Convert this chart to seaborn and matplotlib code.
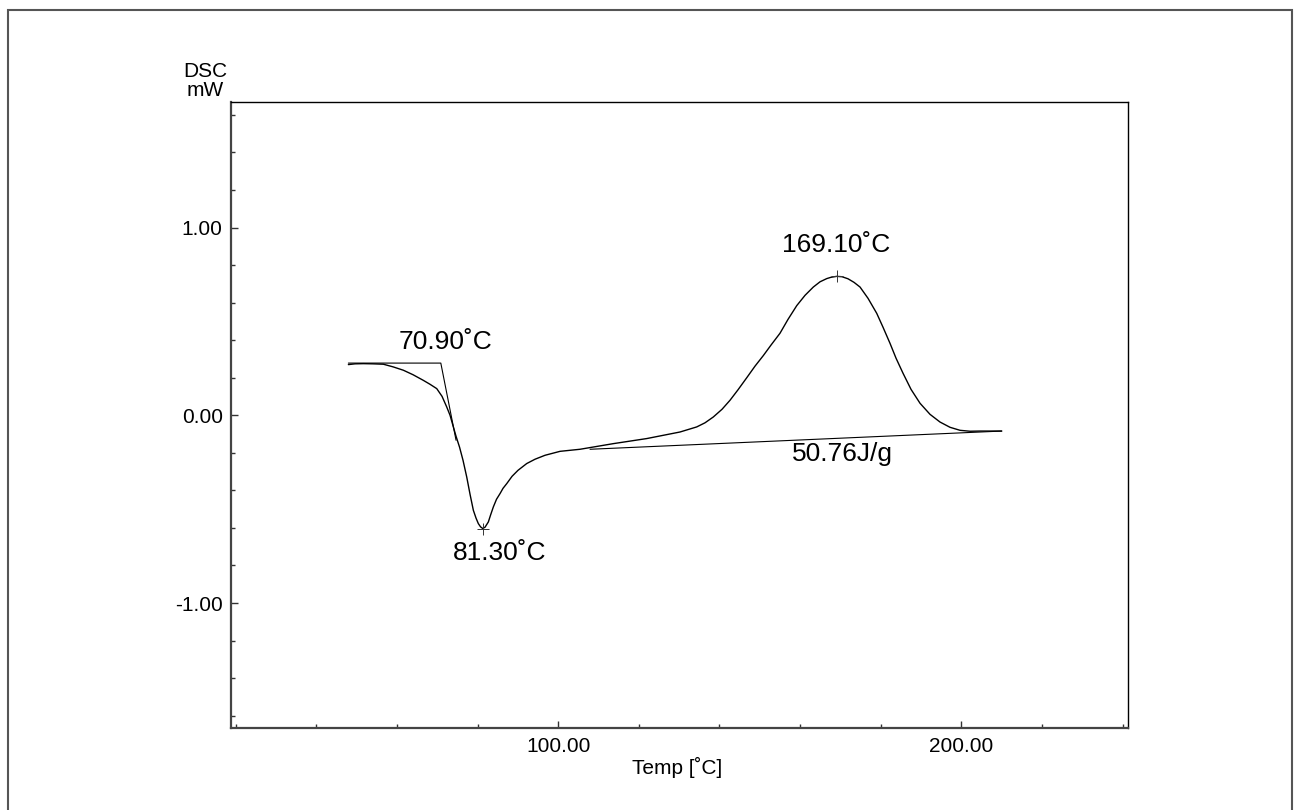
import seaborn as sns
import pandas as pd
import matplotlib.pyplot as plt
import numpy as np
from matplotlib.patches import Rectangle
from matplotlib.ticker import MultipleLocator, FormatStrFormatter

# DSC curve (Temp in C, heat flow in mW)
temp = [47.97, 49.63, 51.69, 54.09, 56.65, 59.05, 61.61, 64.01, 66.57, 68.23,
        69.89, 71.20, 72.37, 73.19, 74.01, 74.68, 75.55, 76.41, 77.33, 78.15,
        78.97, 79.64, 80.21, 80.75, 81.30, 81.87, 82.69, 83.23, 83.93, 84.72,
        85.59, 86.33, 87.25, 88.57, 90.05, 92.21, 94.27, 96.75, 100.47, 105.43,
        113.69, 121.97, 130.23, 134.37, 136.43, 138.49, 140.65, 142.63, 144.62, 146.78,
        148.84, 150.89, 152.80, 155.03, 157.02, 159.18, 161.24, 163.29, 164.96, 166.62,
        167.68, 169.10, 170.41, 171.90, 173.39, 174.88, 176.86, 179.02, 180.58, 182.32,
        183.81, 185.54, 187.53, 189.76, 192.24, 194.72, 197.20, 199.68, 202.16, 204.64,
        207.12, 210.02]
dsc = [0.270, 0.274, 0.275, 0.274, 0.272, 0.258, 0.240, 0.216, 0.186, 0.165,
       0.142, 0.101, 0.044, 0.000, -0.062, -0.112, -0.170, -0.240, -0.329, -0.421,
       -0.506, -0.548, -0.577, -0.594, -0.603, -0.596, -0.568, -0.532, -0.488, -0.447,
       -0.417, -0.389, -0.364, -0.325, -0.293, -0.257, -0.234, -0.213, -0.192, -0.181,
       -0.151, -0.124, -0.089, -0.062, -0.040, -0.009, 0.032, 0.080, 0.136, 0.200,
       0.262, 0.318, 0.374, 0.437, 0.511, 0.584, 0.639, 0.683, 0.711, 0.728,
       0.735, 0.740, 0.738, 0.727, 0.708, 0.683, 0.623, 0.543, 0.469, 0.383,
       0.304, 0.224, 0.138, 0.064, 0.005, -0.036, -0.064, -0.080, -0.085, -0.084,
       -0.084, -0.084]

# onset construction and peak baseline
onset_t = [47.97, 70.90, 74.68]
onset_v = [0.278, 0.278, -0.133]
base_t = [107.91, 210.02]
base_v = [-0.181, -0.084]

peak_t = [81.30, 169.10]
peak_v = [-0.603, 0.740]

labels = ['70.90˚C', '81.30˚C', '169.10˚C', '50.76J/g']
label_t = [71.95, 85.52, 169.05, 170.53]
label_v = [0.355, -0.772, 0.870, -0.243]

sns.set_theme(style='white')
plt.rcParams['font.family'] = ['Liberation Sans', 'DejaVu Sans']
plt.rcParams['axes.unicode_minus'] = False

fig = plt.figure(figsize=(12.98, 8.10), dpi=100)
ax = fig.add_axes([0.178, 0.1009, 0.6908, 0.7728])

df = pd.DataFrame({'Temp': temp, 'DSC': dsc})
sns.lineplot(data=df, x='Temp', y='DSC', sort=False, color='black', linewidth=1.0, ax=ax)
ax.plot(onset_t, onset_v, color='black', linewidth=0.8)
ax.plot(base_t, base_v, color='black', linewidth=0.8)
ax.plot(peak_t, peak_v, linestyle='none', marker='+', markersize=8,
        markeredgewidth=0.7, color='#333333')

for s, t, v in zip(labels, label_t, label_v):
    ax.text(t, v, s, ha='center', va='baseline', fontsize=19, color='black')

ax.set_xlim(18.87, 241.27)
ax.set_ylim(-1.667, 1.667)
ax.xaxis.set_major_locator(MultipleLocator(100))
ax.xaxis.set_minor_locator(MultipleLocator(20))
ax.yaxis.set_major_locator(MultipleLocator(1))
ax.yaxis.set_minor_locator(MultipleLocator(0.2))
ax.xaxis.set_major_formatter(FormatStrFormatter('%.2f'))
ax.yaxis.set_major_formatter(FormatStrFormatter('%.2f'))
ax.tick_params(which='major', direction='in', length=5, width=1, color='#333333',
               labelsize=15, labelcolor='black', pad=6,
               bottom=True, left=True, top=False, right=False)
ax.tick_params(which='minor', direction='in', length=2.8, width=1, color='#333333',
               bottom=True, left=True, top=False, right=False)

ax.set_xlabel('Temp [˚C]', fontsize=15, color='black')
ax.set_ylabel('DSC\nmW', fontsize=15, color='black', rotation=0, ha='center',
              va='bottom', linespacing=1.0)
ax.yaxis.set_label_coords(-0.029, 1.003)
ax.xaxis.set_label_coords(0.497, -0.045)
ax.xaxis.label.set_va('top')

for side in ['left', 'bottom']:
    ax.spines[side].set_color('#444444')
    ax.spines[side].set_linewidth(1.6)
for side in ['top', 'right']:
    ax.spines[side].set_color('black')
    ax.spines[side].set_linewidth(1.0)

fig.patches.append(Rectangle((0.0064, -0.05), 0.9887, 1.0377, transform=fig.transFigure,
                             fill=False, edgecolor='#555555', linewidth=1.5, clip_on=False))

fig.savefig('out.png', dpi=100)
